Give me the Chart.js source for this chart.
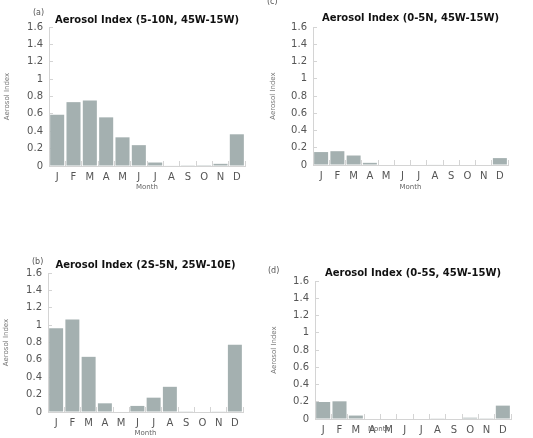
<!DOCTYPE html>
<html>
<head>
<meta charset="utf-8">
<script src="https://cdn.jsdelivr.net/npm/chart.js@4"></script>
<style>
  body { margin: 0; background: #fff; }
  #wrap { position: relative; width: 533px; height: 438px; overflow: hidden; font-family: "DejaVu Sans", sans-serif; }
  canvas { position: absolute; }
  .tag { position: absolute; font-size: 8px; color: #555; }
  .month { position: absolute; font-size: 7px; color: #666; }
</style>
</head>
<body>
<div id="wrap">
  <canvas id="chartA" style="left:0px;top:0px;width:262px;height:200px"></canvas>
  <canvas id="chartC" style="left:263px;top:0px;width:270px;height:200px"></canvas>
  <canvas id="chartB" style="left:0px;top:250px;width:262px;height:188px"></canvas>
  <canvas id="chartD" style="left:263px;top:250px;width:270px;height:188px"></canvas>
  <div class="tag" style="left:33px;top:8px">(a)</div>
  <div class="tag" style="left:267px;top:-3px">(c)</div>
  <div class="tag" style="left:32px;top:257px">(b)</div>
  <div class="tag" style="left:268px;top:266px">(d)</div>
  <div class="month" style="left:368px;top:425px">Month</div>
</div>
<script>
// ============================================================
// DATA
// ============================================================

// month letters along the X axis
const months = ['J','F','M','A','M','J','J','A','S','O','N','D'];

// aerosol index per month, one array per region
const aerosolA = [0.59, 0.735, 0.755, 0.56, 0.33, 0.24, 0.04, 0.005, 0.003, 0.002, 0.025, 0.365]; // 5-10N, 45W-15W
const aerosolB = [0.965, 1.065, 0.635, 0.1, 0, 0.07, 0.165, 0.29, 0.008, 0, 0.004, 0.775];     // 2S-5N, 25W-10E
const aerosolC = [0.15, 0.16, 0.11, 0.025, 0, 0, 0, 0.005, 0, 0, 0, 0.08];                      // 0-5N, 45W-15W
const aerosolD = [0.197, 0.205, 0.04, 0, 0, 0, 0, 0.008, 0, 0.015, 0.003, 0.155];               // 0-5S, 45W-15W

// titles
const titleA = 'Aerosol Index (5-10N, 45W-15W)';
const titleB = 'Aerosol Index (2S-5N, 25W-10E)';
const titleC = 'Aerosol Index (0-5N, 45W-15W)';
const titleD = 'Aerosol Index (0-5S, 45W-15W)';

// Y axis goes 0 to 1.6 in steps of 0.2
const yMin = 0;
const yMax = 1.6;
const yStep = 0.2;

// ============================================================
// ONE PANEL
// ============================================================
// p holds the layout numbers for one panel (pixel sizes of the boxes)
function makePanel(id, values, title, p) {
  const ctx = document.getElementById(id).getContext('2d');
  return new Chart(ctx, {
    type: 'bar',
    data: {
      labels: months,
      datasets: [{
        data: values,
        backgroundColor: '#a4b0b0',
        borderWidth: 0,
        categoryPercentage: 1,
        barPercentage: 0.86
      }]
    },
    options: {
      responsive: false,
      animation: false,
      layout: { padding: { top: 0, left: 0, right: p.right, bottom: 0 } },
      plugins: {
        legend: { display: false },
        tooltip: { enabled: false },
        title: {
          display: true,
          text: title,
          fullSize: false,
          color: '#111',
          font: { family: 'DejaVu Sans', size: 10, weight: 'bold' },
          padding: { top: p.titleTop, bottom: p.titleBottom }
        }
      },
      scales: {
        x: {
          grid: { drawOnChartArea: false, drawTicks: true, tickLength: -5, color: '#d4d4d4' },
          border: { color: '#d4d4d4' },
          ticks: { color: '#555', padding: 10, font: { family: 'DejaVu Sans', size: 10 } },
          title: {
            display: p.monthTitle,
            text: 'Month',
            color: '#666',
            font: { family: 'DejaVu Sans', size: 7 },
            padding: { top: 0, bottom: p.monthPad }
          },
          afterFit: function(scale) { scale.height = p.xHeight; }
        },
        y: {
          min: yMin,
          max: yMax,
          grid: { drawOnChartArea: false, drawTicks: true, tickLength: -4, color: '#d4d4d4' },
          border: { color: '#d4d4d4' },
          ticks: {
            stepSize: yStep,
            color: '#555',
            padding: 10,
            font: { family: 'DejaVu Sans', size: 10 },
            // show 1 instead of 1.0, 0.6 instead of 0.6000001
            callback: function(value) { return String(parseFloat(value.toFixed(1))); }
          },
          title: {
            display: true,
            text: 'Aerosol Index',
            color: '#777',
            font: { family: 'DejaVu Sans', size: 7 },
            padding: { top: p.yTitlePad, bottom: 0 }
          },
          afterFit: function(scale) { scale.width = p.yWidth; }
        }
      }
    }
  });
}

// ============================================================
// THE FOUR PANELS
// ============================================================
const chartA = makePanel('chartA', aerosolA, titleA,
  { right: 17, yWidth: 49, xHeight: 34, titleTop: 14, titleBottom: 1, monthTitle: true, monthPad: 9, yTitlePad: 3 });

const chartC = makePanel('chartC', aerosolC, titleC,
  { right: 25, yWidth: 50, xHeight: 35, titleTop: 12, titleBottom: 3, monthTitle: true, monthPad: 9, yTitlePad: 6 });

const chartB = makePanel('chartB', aerosolB, titleB,
  { right: 19, yWidth: 48, xHeight: 26, titleTop: 9, titleBottom: 2, monthTitle: true, monthPad: 1, yTitlePad: 2 });

const chartD = makePanel('chartD', aerosolD, titleD,
  { right: 22, yWidth: 52, xHeight: 19, titleTop: 17, titleBottom: 2, monthTitle: false, monthPad: 0, yTitlePad: 7 });
</script>
</body>
</html>
